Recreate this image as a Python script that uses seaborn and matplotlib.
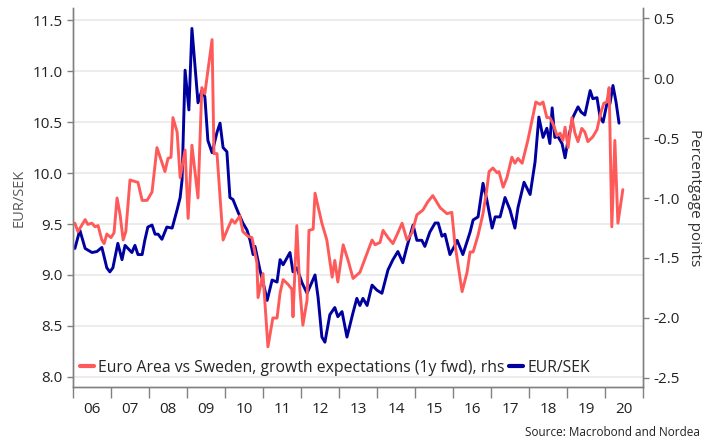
import pandas as pd
import matplotlib.pyplot as plt
import seaborn as sns

# EUR/SEK (lhs), traced vertices: decimal year, level
sek_year = [2006.05, 2006.18, 2006.32, 2006.50, 2006.63, 2006.76, 2006.89, 2006.97, 2007.05, 2007.18,
            2007.29, 2007.37, 2007.55, 2007.63, 2007.71, 2007.82, 2007.89, 2007.97, 2008.08, 2008.16,
            2008.24, 2008.34, 2008.47, 2008.61, 2008.74, 2008.82, 2008.87, 2008.95, 2009.05, 2009.13,
            2009.29, 2009.39, 2009.47, 2009.55, 2009.66, 2009.79, 2009.87, 2009.95, 2010.05, 2010.13,
            2010.21, 2010.34, 2010.47, 2010.58, 2010.66, 2010.74, 2010.79, 2010.92, 2011.05, 2011.11,
            2011.24, 2011.37, 2011.45, 2011.53, 2011.71, 2011.79, 2011.89, 2012.03, 2012.16, 2012.37,
            2012.45, 2012.55, 2012.63, 2012.76, 2012.89, 2012.97, 2013.08, 2013.21, 2013.37, 2013.47,
            2013.55, 2013.63, 2013.74, 2013.87, 2014.00, 2014.13, 2014.29, 2014.42, 2014.55, 2014.68,
            2014.79, 2014.95, 2015.05, 2015.18, 2015.26, 2015.39, 2015.53, 2015.61, 2015.71, 2015.79,
            2015.92, 2016.05, 2016.11, 2016.26, 2016.45, 2016.53, 2016.66, 2016.79, 2016.89, 2017.03,
            2017.11, 2017.24, 2017.37, 2017.50, 2017.63, 2017.71, 2017.87, 2018.03, 2018.16, 2018.26,
            2018.37, 2018.47, 2018.55, 2018.61, 2018.68, 2018.76, 2018.87, 2018.95, 2019.03, 2019.16,
            2019.29, 2019.37, 2019.47, 2019.61, 2019.68, 2019.79, 2019.87, 2019.95, 2020.05, 2020.13,
            2020.21, 2020.29, 2020.37]
sek_value = [9.26, 9.44, 9.26, 9.22, 9.23, 9.27, 9.07, 9.03, 9.07, 9.31,
             9.15, 9.29, 9.22, 9.29, 9.20, 9.20, 9.34, 9.47, 9.49, 9.40,
             9.40, 9.35, 9.47, 9.46, 9.64, 9.76, 9.93, 11.01, 10.62, 11.42,
             10.69, 10.81, 10.75, 10.32, 10.20, 10.40, 10.49, 10.25, 10.21, 9.76,
             9.74, 9.62, 9.51, 9.44, 9.34, 9.20, 9.28, 9.05, 8.85, 8.75,
             8.95, 8.93, 9.15, 9.10, 9.22, 9.03, 9.07, 8.92, 8.82, 9.00,
             8.78, 8.39, 8.34, 8.61, 8.68, 8.59, 8.64, 8.39, 8.63, 8.77,
             8.70, 8.77, 8.70, 8.90, 8.85, 8.82, 9.05, 9.15, 9.23, 9.12,
             9.28, 9.49, 9.34, 9.34, 9.28, 9.42, 9.51, 9.51, 9.38, 9.40,
             9.20, 9.29, 9.34, 9.20, 9.42, 9.54, 9.57, 9.90, 9.74, 9.46,
             9.57, 9.57, 9.76, 9.64, 9.46, 9.66, 9.91, 9.79, 10.11, 10.55,
             10.35, 10.44, 10.29, 10.64, 10.35, 10.36, 10.29, 10.15, 10.33, 10.55,
             10.65, 10.60, 10.57, 10.81, 10.73, 10.74, 10.55, 10.50, 10.68, 10.68,
             10.86, 10.70, 10.49]

# Euro Area vs Sweden growth expectations (rhs), percentage points
gap_year = [2006.05, 2006.13, 2006.32, 2006.39, 2006.50, 2006.58, 2006.66, 2006.76, 2006.82, 2006.89,
            2007.00, 2007.08, 2007.16, 2007.24, 2007.32, 2007.39, 2007.50, 2007.71, 2007.82, 2007.95,
            2008.08, 2008.21, 2008.42, 2008.50, 2008.58, 2008.63, 2008.74, 2008.82, 2008.95, 2009.03,
            2009.13, 2009.29, 2009.39, 2009.47, 2009.66, 2009.71, 2009.79, 2009.95, 2010.08, 2010.18,
            2010.26, 2010.39, 2010.47, 2010.61, 2010.71, 2010.84, 2010.87, 2011.00, 2011.13, 2011.26,
            2011.37, 2011.45, 2011.53, 2011.66, 2011.76, 2011.79, 2011.89, 2011.97, 2012.05, 2012.16,
            2012.21, 2012.32, 2012.37, 2012.55, 2012.68, 2012.82, 2012.89, 2012.97, 2013.11, 2013.24,
            2013.37, 2013.55, 2013.74, 2013.87, 2013.95, 2014.08, 2014.16, 2014.29, 2014.42, 2014.55,
            2014.66, 2014.79, 2014.92, 2015.05, 2015.21, 2015.34, 2015.47, 2015.66, 2015.84, 2015.97,
            2016.05, 2016.24, 2016.37, 2016.45, 2016.53, 2016.66, 2016.79, 2016.89, 2016.95, 2017.05,
            2017.16, 2017.21, 2017.32, 2017.42, 2017.55, 2017.63, 2017.71, 2017.82, 2017.97, 2018.18,
            2018.29, 2018.37, 2018.47, 2018.55, 2018.63, 2018.74, 2018.82, 2018.89, 2018.95, 2019.03,
            2019.13, 2019.21, 2019.29, 2019.39, 2019.47, 2019.55, 2019.68, 2019.79, 2019.89, 2019.97,
            2020.05, 2020.11, 2020.18, 2020.26, 2020.34, 2020.47]
gap_value = [-1.21, -1.28, -1.18, -1.22, -1.21, -1.24, -1.23, -1.35, -1.38, -1.30,
             -1.33, -1.29, -1.00, -1.14, -1.35, -1.28, -0.85, -0.87, -1.02, -1.02,
             -0.95, -0.58, -0.78, -0.67, -0.66, -0.33, -0.45, -0.83, -0.60, -1.17,
             -0.56, -1.00, -0.08, -0.13, 0.32, -0.63, -0.63, -1.35, -1.25, -1.18,
             -1.21, -1.15, -1.28, -1.32, -1.33, -1.54, -1.83, -1.63, -2.24, -2.00,
             -2.00, -1.79, -1.68, -1.72, -1.76, -1.99, -1.23, -1.76, -2.06, -1.85,
             -1.27, -1.26, -0.96, -1.21, -1.35, -1.66, -1.52, -1.70, -1.39, -1.52,
             -1.67, -1.62, -1.46, -1.35, -1.39, -1.37, -1.27, -1.33, -1.38, -1.29,
             -1.21, -1.35, -1.29, -1.14, -1.10, -1.03, -0.98, -1.08, -1.13, -1.12,
             -1.38, -1.78, -1.62, -1.45, -1.45, -1.31, -1.13, -0.93, -0.78, -0.75,
             -0.79, -0.78, -0.91, -0.83, -0.66, -0.71, -0.67, -0.71, -0.52, -0.20,
             -0.22, -0.20, -0.33, -0.33, -0.38, -0.48, -0.46, -0.52, -0.41, -0.58,
             -0.33, -0.46, -0.53, -0.42, -0.45, -0.53, -0.49, -0.43, -0.29, -0.21,
             -0.20, -0.08, -1.24, -0.52, -1.21, -0.93]

year_labels = ["06", "07", "08", "09", "10", "11", "12", "13", "14", "15", "16", "17", "18", "19", "20"]
first_year = 2006

red = "#ff5a5a"
navy = "#0000a0"
grey = "#808080"

sek = pd.DataFrame({"year": sek_year, "value": sek_value})
gap = pd.DataFrame({"year": gap_year, "value": gap_value})

sns.set_style("white")
plt.rcParams["font.family"] = ["Open Sans", "DejaVu Sans"]

fig = plt.figure(figsize=(7.1, 4.48), dpi=100)
ax = fig.add_axes([0.1028, 0.1362, 0.8028, 0.8458])
ax2 = ax.twinx()

sns.lineplot(data=sek, x="year", y="value", ax=ax, color=navy, linewidth=2.1,
             label="EUR/SEK", legend=False)
sns.lineplot(data=gap, x="year", y="value", ax=ax2, color=red, linewidth=2.1,
             label="Euro Area vs Sweden, growth expectations (1y fwd), rhs", legend=False)

# left axis
ax.set_ylim(7.90, 11.62)
ax.set_yticks([8.0, 8.5, 9.0, 9.5, 10.0, 10.5, 11.0, 11.5])
ax.set_yticklabels([f"{v:.1f}" for v in ax.get_yticks()])
ax.yaxis.grid(True, color="#ebebeb", linewidth=1.3)
ax.set_axisbelow(True)
ax.set_ylabel("EUR/SEK", color="#595959", fontsize=10.5, labelpad=4)

# right axis
ax2.set_ylim(-2.575, 0.583)
ax2.set_yticks([-2.5, -2.0, -1.5, -1.0, -0.5, 0.0, 0.5])
ax2.set_yticklabels([f"{v:.1f}" for v in ax2.get_yticks()])
ax2.set_ylabel("Percentgage points", rotation=270, fontsize=11, color="#333333", labelpad=16)

# x axis: year boundaries as ticks, labels in the middle of each year
n = len(year_labels)
ax.set_xlim(first_year, first_year + n)
ax.set_xticks([first_year + i for i in range(n + 1)])
ax.set_xticklabels([])
ax.set_xticks([first_year + i + 0.5 for i in range(n)], minor=True)
ax.set_xticklabels(year_labels, minor=True)
ax.tick_params(axis="x", which="major", length=8, width=1, color=grey, direction="out", bottom=True)
ax.tick_params(axis="x", which="minor", length=0, pad=11, labelsize=11, labelcolor="#222222")
ax.set_xlabel("")
ax2.set_xlabel("")

ax.tick_params(axis="y", length=4, width=1, color=grey, left=True, labelsize=11, labelcolor="#222222")
ax2.tick_params(axis="y", length=4, width=1, color=grey, right=True, labelsize=11, labelcolor="#222222")

for a in (ax, ax2):
    a.spines["top"].set_visible(False)
    for s in ("left", "right", "bottom"):
        a.spines[s].set_color(grey)
        a.spines[s].set_linewidth(1)

h1, l1 = ax.get_legend_handles_labels()
h2, l2 = ax2.get_legend_handles_labels()
leg = ax2.legend(h2 + h1, l2 + l1, loc="lower left", bbox_to_anchor=(-0.005, 0.005), ncol=2,
                 frameon=False, fontsize=11.3, handlelength=0.9, handletextpad=0.3,
                 columnspacing=0.25, borderaxespad=0.2)
for line in leg.get_lines():
    line.set_linewidth(3)

fig.text(0.986, 0.035, "Source: Macrobond and Nordea", ha="right", va="center",
         fontsize=8.5, color="#222222")

fig.savefig("out.png", dpi=100)
